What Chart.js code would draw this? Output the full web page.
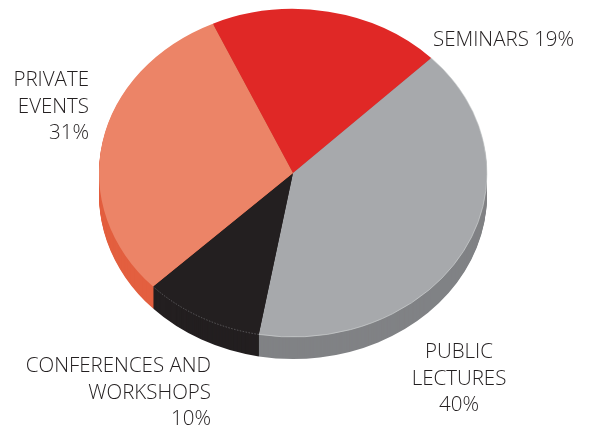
<!DOCTYPE html>
<html lang="en">
<head>
<meta charset="UTF-8">
<title>Events</title>
<style>
html, body { margin: 0; padding: 0; background: #fff; }
.chart-box { position: relative; width: 592px; height: 430px; overflow: hidden; }
</style>
</head>
<body>
<div class="chart-box"><canvas id="myChart" width="592" height="430"></canvas></div>

<script src="https://cdn.jsdelivr.net/npm/chart.js"></script>
<script>
const categories = ['Seminars', 'Public lectures', 'Conferences and workshops', 'Private events']
// slice sizes as measured on the drawn pie, the printed labels are rounded differently
const shares = [19.4, 40.2, 10, 30.4]
const sliceColors = ['#e02826', '#a7a9ac', '#231f20', '#ec8467']
const sideColors = ['#b02020', '#808285', '#231f20', '#e35f3f']
const labelLines = [
    ['SEMINARS 19%'],
    ['PUBLIC', 'LECTURES', '40%'],
    ['CONFERENCES AND', 'WORKSHOPS', '10%'],
    ['PRIVATE', 'EVENTS', '31%']
]
const labelPlaces = [
    {x: 433, y: 46, align: 'left'},
    {x: 459, y: 358, align: 'center'},
    {x: 211, y: 372, align: 'right'},
    {x: 89, y: 86, align: 'right'}
]

// the pie is squashed into an ellipse and drawn repeatedly downward for the rim
const squash = 164 / 194
const depth = 22

function squashed(chart) {
    const ctx = chart.ctx
    const arc = chart.getDatasetMeta(0).data[0]
    ctx.translate(arc.x, arc.y)
    ctx.scale(1, squash)
    ctx.translate(-arc.x, -arc.y)
}

function seam(ctx, arc, color, dash) {
    ctx.beginPath()
    ctx.arc(arc.x, arc.y, arc.outerRadius, arc.startAngle, arc.endAngle)
    ctx.strokeStyle = color
    ctx.lineWidth = 0.7
    ctx.setLineDash(dash)
    ctx.stroke()
}

const tiltPlugin = {
    id: 'tilt',
    beforeDatasetsDraw(chart) {
        const ctx = chart.ctx
        const arcs = chart.getDatasetMeta(0).data
        for (let dy = depth; dy > 0; dy--) {
            ctx.save()
            ctx.translate(0, dy)
            squashed(chart)
            arcs.forEach((arc, i) => {
                const keep = arc.options.backgroundColor
                arc.options.backgroundColor = sideColors[i]
                arc.draw(ctx)
                arc.options.backgroundColor = keep
            })
            ctx.restore()
        }
        ctx.save()
        squashed(chart)
    },
    afterDatasetsDraw(chart) {
        const ctx = chart.ctx
        const arcs = chart.getDatasetMeta(0).data
        // faint seams between the top and the rim
        seam(ctx, arcs[1], '#d1d3d4', [])
        seam(ctx, arcs[2], '#77787b', [1.5, 1.5])
        ctx.restore()
    },
    afterDraw(chart) {
        const ctx = chart.ctx
        ctx.save()
        ctx.font = '300 20.5px "Open Sans"'
        ctx.fillStyle = '#231f20'
        ctx.textBaseline = 'alphabetic'
        labelLines.forEach((lines, i) => {
            const p = labelPlaces[i]
            ctx.textAlign = p.align
            lines.forEach((line, n) => ctx.fillText(line, p.x, p.y + n * 26.7))
        })
        ctx.restore()
    }
}

new Chart(document.getElementById('myChart'), {
    type: 'pie',
    data: {
        labels: categories,
        datasets: [{
            data: shares,
            backgroundColor: sliceColors,
            borderWidth: 0,
            clip: false
        }]
    },
    options: {
        responsive: false,
        animation: false,
        rotation: -24.4,
        radius: 194,
        layout: {padding: {left: 99, right: 105, top: 0, bottom: 84}},
        plugins: {legend: {display: false}, tooltip: {enabled: false}}
    },
    plugins: [tiltPlugin]
})
</script>
</body>
</html>
